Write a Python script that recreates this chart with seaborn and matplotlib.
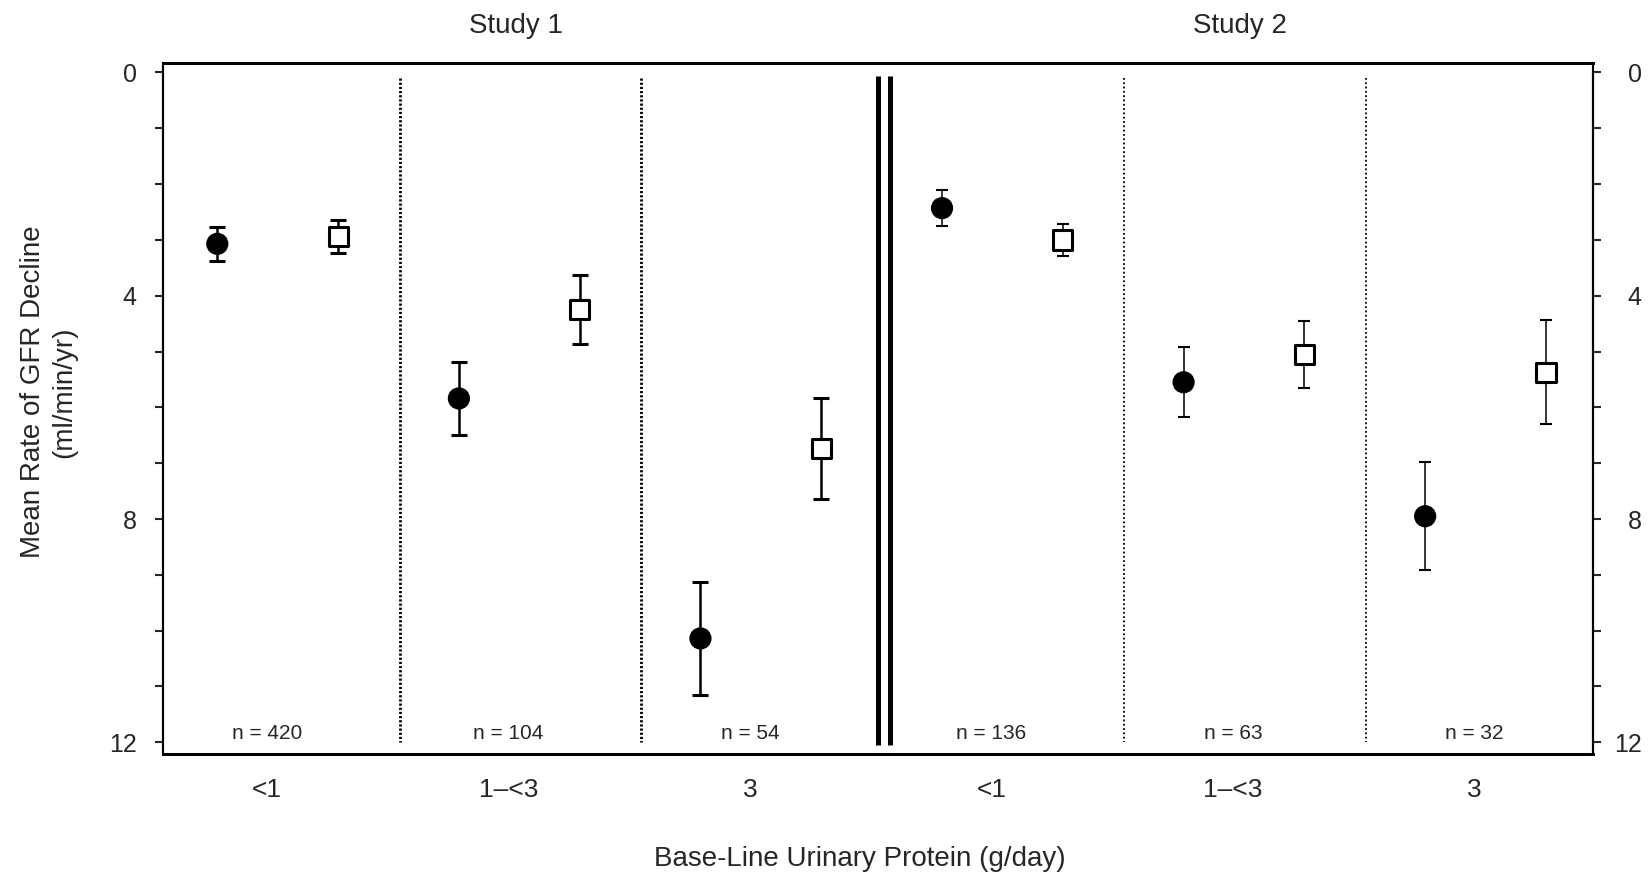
import matplotlib
matplotlib.use("Agg")
import matplotlib.pyplot as plt
import numpy as np
import pandas as pd
import seaborn as sns

# values (ml/min/yr, larger = faster decline)
studies = ["Study 1", "Study 2"]
protein_levels = ["<1", "1\u2013<3", "3"]
n_counts = [420, 104, 54, 136, 63, 32]
filled_mean = [3.07, 5.84, 10.14, 2.43, 5.55, 7.95]
filled_err = [0.30, 0.65, 1.02, 0.32, 0.63, 0.97]
open_mean = [2.94, 4.25, 6.74, 3.00, 5.05, 5.37]
open_err = [0.30, 0.62, 0.91, 0.28, 0.60, 0.93]
y_ticks = [0, 4, 8, 12]


def build_frame():
    rows = []
    for i in range(len(n_counts)):
        study = studies[i // 3]
        level = protein_levels[i % 3]
        rows.append((study, level, i, "filled", filled_mean[i], filled_err[i]))
        rows.append((study, level, i, "open", open_mean[i], open_err[i]))
    df = pd.DataFrame(rows, columns=["study", "protein", "group", "arm", "mean", "err"])
    offset = {"filled": 0.245, "open": 0.745}
    df["x"] = df["group"] + df["arm"].map(offset)
    return df


def main():
    sns.set_theme(style="ticks")
    plt.rcParams["font.family"] = ["Liberation Sans", "DejaVu Sans"]
    plt.rcParams["lines.scale_dashes"] = False

    df = build_frame()

    fig, ax = plt.subplots(figsize=(16.51, 8.8), dpi=100)
    fig.subplots_adjust(left=0.0987, right=0.9649, top=0.9284, bottom=0.1432)

    # error bars, heavier in study 1 like the scanned original
    for study, lw, cap in [("Study 1", 1.8, 6), ("Study 2", 1.1, 4.5)]:
        sub = df[df["study"] == study]
        ax.errorbar(sub["x"], sub["mean"], yerr=sub["err"], fmt="none",
                    ecolor="black", elinewidth=lw, capsize=cap, capthick=lw + 0.4,
                    zorder=2)

    sns.scatterplot(data=df, x="x", y="mean", hue="arm", style="arm",
                    palette={"filled": "black", "open": "white"},
                    markers={"filled": "o", "open": "s"},
                    s=190, edgecolor="black", linewidth=2.2,
                    legend=False, zorder=3, ax=ax)

    # separators between protein groups
    for k in [1, 2]:
        ax.vlines(k, 0.1, 12.0, colors="black", linewidth=2.0,
                  linestyles=(0, (1.6, 1.4)), zorder=1)
    for k in [4, 5]:
        ax.vlines(k, 0.1, 12.0, colors="black", linewidth=1.3,
                  linestyles=(0, (1.3, 1.8)), zorder=1)
    # double bar between the two studies
    for dx in [-0.021, 0.029]:
        ax.vlines(3 + dx, 0.07, 12.05, colors="black", linewidth=3.6, zorder=1)

    # sample sizes
    for i, n in enumerate(n_counts):
        ax.text(i + 0.45, 11.95, f"n = {n}", ha="center", va="baseline",
                fontsize=15)

    # study headings
    for j, study in enumerate(studies):
        ax.text(j * 3 + 1.48, 1.054, study, transform=ax.get_xaxis_transform(),
                ha="center", va="center", fontsize=20)

    ax.set_xlim(0.02, 5.94)
    ax.set_ylim(12.21, -0.17)

    ax.set_xticks(np.arange(len(n_counts)) + 0.45)
    ax.set_xticklabels(protein_levels * len(studies))
    ax.tick_params(axis="x", length=0, pad=17, labelsize=19)

    ax.set_yticks(y_ticks)
    ax.set_yticks(np.arange(0, 13), minor=True)
    ax.tick_params(axis="y", which="both", direction="out", length=6,
                   width=1.5, pad=13, labelsize=18)

    ax.set_xlabel("Base-Line Urinary Protein (g/day)", fontsize=20)
    ax.xaxis.set_label_coords(0.487, -0.133)
    ax.set_ylabel("Mean Rate of GFR Decline\n(ml/min/yr)", fontsize=20,
                  linespacing=1.25)
    ax.yaxis.set_label_coords(-0.060, 0.524)

    ax2 = ax.twinx()
    ax2.set_ylim(ax.get_ylim())
    ax2.set_yticks(y_ticks, labels=[str(t) for t in y_ticks], ha="right")
    ax2.set_yticks(np.arange(0, 13), minor=True)
    ax2.tick_params(axis="y", which="both", direction="out", length=6,
                    width=1.5, pad=29, labelsize=18)

    for a in (ax, ax2):
        for side in ["top", "bottom"]:
            a.spines[side].set_linewidth(2.0)
        for side in ["left", "right"]:
            a.spines[side].set_linewidth(1.5)
        for spine in a.spines.values():
            spine.set_color("black")

    plt.savefig("out.png", dpi=100, facecolor="white")


if __name__ == "__main__":
    main()
